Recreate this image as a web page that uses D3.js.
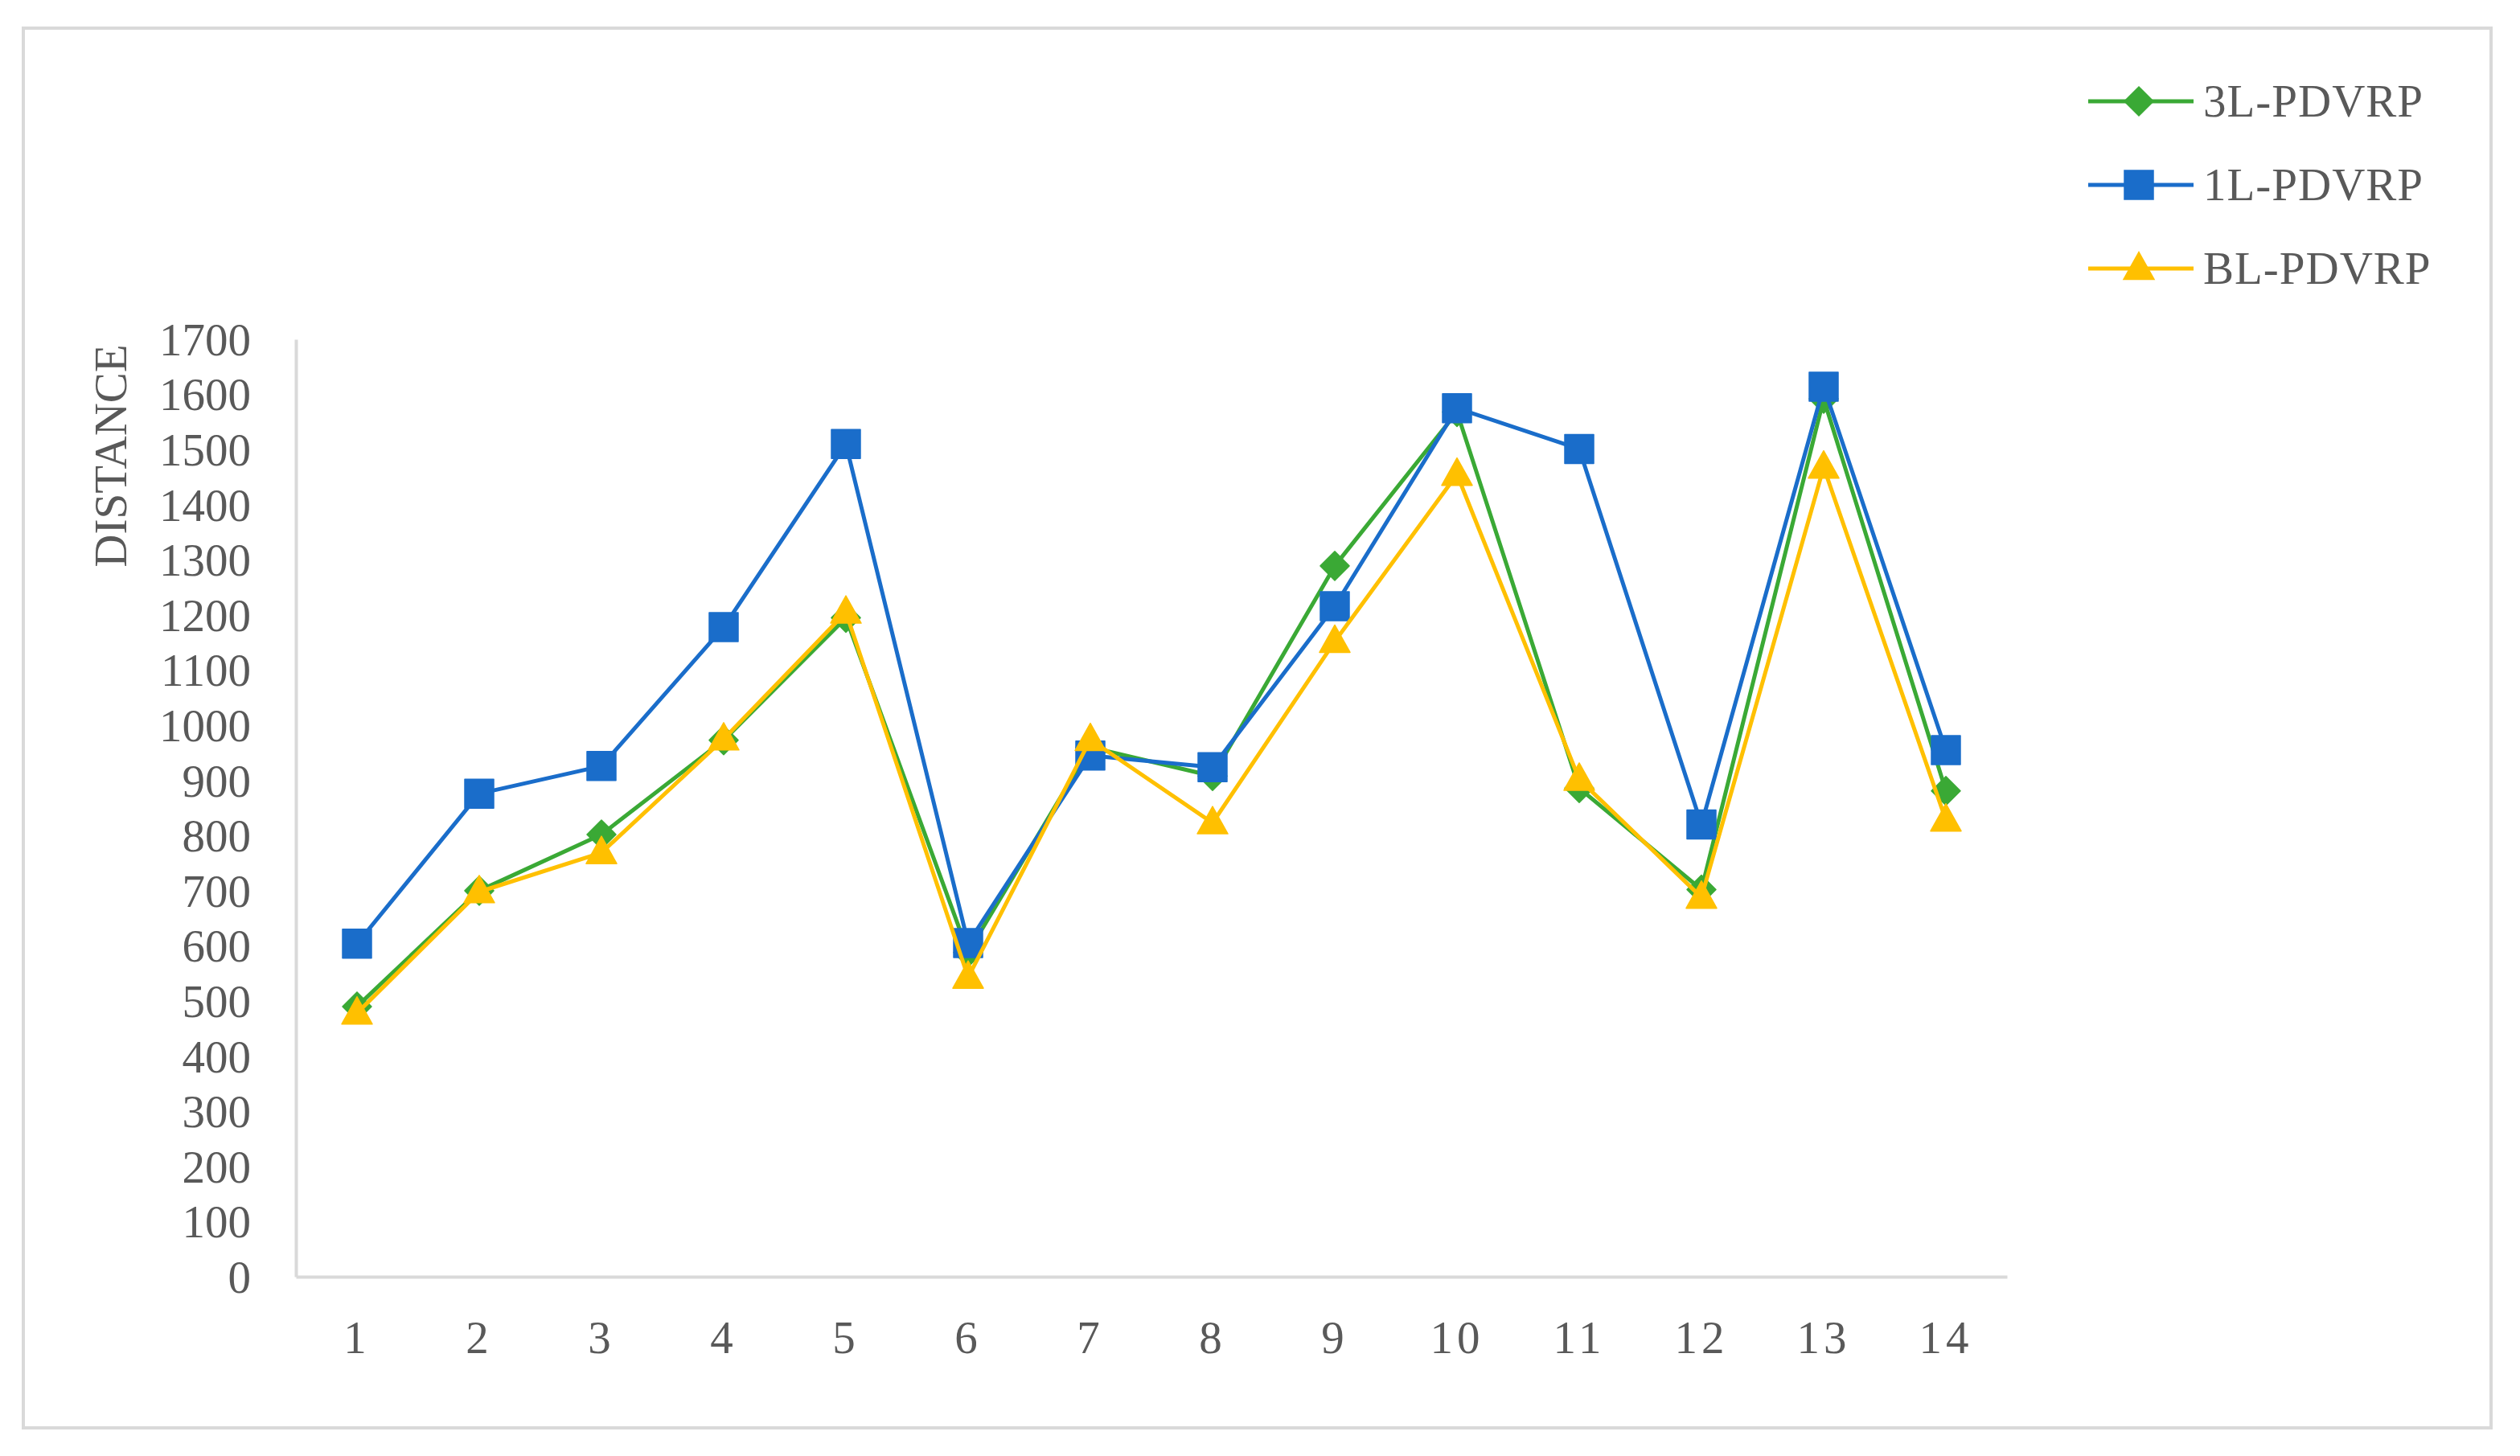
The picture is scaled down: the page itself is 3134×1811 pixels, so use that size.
<!DOCTYPE html>
<html>
<head>
<meta charset="utf-8">
<script src="https://cdn.jsdelivr.net/npm/d3@7"></script>
<style>
  html, body { margin: 0; padding: 0; background: #ffffff; }
  svg { display: block; }
</style>
</head>
<body>
<svg id="chart" width="3134" height="1811"></svg>
<script>
// ---- data ----
const categories = ["1","2","3","4","5","6","7","8","9","10","11","12","13","14"];
const series3L = [490, 700, 802, 973, 1195, 588, 960, 908, 1289, 1568, 886, 702, 1592, 881];
const series1L = [604, 876, 926, 1178, 1510, 605, 945, 924, 1216, 1575, 1501, 820, 1614, 955];
const seriesBL = [478, 698, 769, 975, 1205, 543, 974, 823, 1152, 1455, 902, 688, 1468, 828];
const seriesNames = ["3L-PDVRP", "1L-PDVRP", "BL-PDVRP"];
const yTicks = [0,100,200,300,400,500,600,700,800,900,1000,1100,1200,1300,1400,1500,1600,1700];
const yTitle = "DISTANCE";

// ---- styles ----
const colors = ["#3aa935", "#1a6dca", "#ffc000"];
const markers = ["diamond", "square", "triangle"];
const textColor = "#595959";
const fontFam = "'Liberation Serif', 'Times New Roman', serif";
const fontSize = 57;

const svg = d3.select("#chart");

// outer border
svg.append("rect")
  .attr("x", 29).attr("y", 35).attr("width", 3069).attr("height", 1741)
  .attr("fill", "#ffffff").attr("stroke", "#d9d9d9").attr("stroke-width", 4);

const plot = { left: 368, right: 2496, top: 422, bottom: 1588 };

const x = d3.scaleBand().domain(categories).range([plot.left, plot.right]);
const y = d3.scaleLinear().domain([0, 1700]).range([plot.bottom, plot.top]);
const cx = c => x(c) + x.bandwidth() / 2;

// y axis
const yAxis = svg.append("g")
  .attr("transform", `translate(${plot.left},0)`)
  .call(d3.axisLeft(y).tickValues(yTicks).tickSize(0).tickPadding(56).tickSizeOuter(0).tickFormat(d3.format("d")));
yAxis.select(".domain").attr("stroke", "#d9d9d9").attr("stroke-width", 4);
yAxis.selectAll("text")
  .attr("fill", textColor).attr("font-family", fontFam).attr("font-size", fontSize)
  .attr("dy", "0.34em");

// x axis
const xAxis = svg.append("g")
  .attr("transform", `translate(0,${plot.bottom})`)
  .call(d3.axisBottom(x).tickSize(0).tickSizeOuter(0));
xAxis.select(".domain").attr("stroke", "#d9d9d9").attr("stroke-width", 4);
xAxis.selectAll("text")
  .attr("fill", textColor).attr("font-family", fontFam).attr("font-size", fontSize)
  .attr("letter-spacing", 5)
  .attr("y", 76).attr("dy", "0.34em");

// y title
svg.append("text")
  .attr("transform", `translate(138,567) rotate(-90)`)
  .attr("text-anchor", "middle").attr("dy", "0.34em")
  .attr("fill", textColor).attr("font-family", fontFam).attr("font-size", fontSize)
  .text(yTitle);

// marker helper
function markerPath(type) {
  if (type === "diamond") {
    const r = 18;
    return `M0,${-r}L${r},0L0,${r}L${-r},0Z`;
  }
  if (type === "square") {
    const h = 18;
    return `M${-h},${-h}H${h}V${h}H${-h}Z`;
  }
  // triangle
  const w = 19, ht = 34;
  return `M0,${-ht*0.6}L${w},${ht*0.4}L${-w},${ht*0.4}Z`;
}

const allSeries = [series3L, series1L, seriesBL];
const line = d3.line().x(d => cx(d.c)).y(d => y(d.v));

allSeries.forEach((vals, i) => {
  const data = categories.map((c, k) => ({ c, v: vals[k] }));
  const g = svg.append("g");
  g.append("path").datum(data)
    .attr("d", line).attr("fill", "none")
    .attr("stroke", colors[i]).attr("stroke-width", 5).attr("stroke-linejoin", "round");
  g.selectAll("path.m").data(data).enter().append("path")
    .attr("class", "m")
    .attr("transform", d => `translate(${cx(d.c)},${y(d.v)})`)
    .attr("d", markerPath(markers[i]))
    .attr("fill", colors[i]).attr("stroke", colors[i]).attr("stroke-width", 1.5)
    .attr("stroke-linejoin", "round");
});

// legend
const legendRows = [126, 230, 334];
seriesNames.forEach((name, i) => {
  const g = svg.append("g").attr("transform", `translate(0,${legendRows[i]})`);
  g.append("line").attr("x1", 2597).attr("x2", 2728).attr("y1", 0).attr("y2", 0)
    .attr("stroke", colors[i]).attr("stroke-width", 5);
  g.append("path").attr("transform", "translate(2660,0)")
    .attr("d", markerPath(markers[i]))
    .attr("fill", colors[i]).attr("stroke", colors[i]).attr("stroke-width", 1.5);
  g.append("text").attr("x", 2740).attr("dy", "0.34em")
    .attr("fill", textColor).attr("font-family", fontFam).attr("font-size", fontSize)
    .attr("letter-spacing", 1)
    .text(name);
});
</script>
</body>
</html>
